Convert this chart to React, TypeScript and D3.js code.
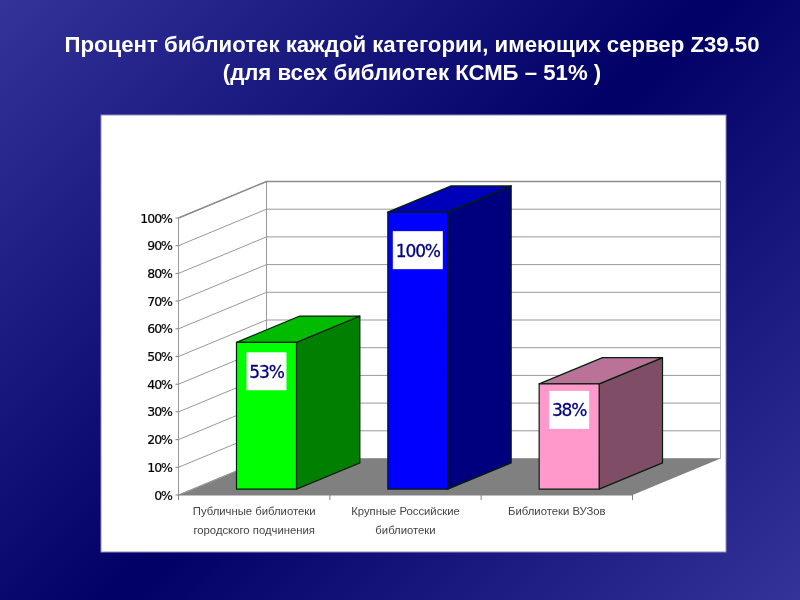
import React from 'react';
import * as d3 from 'd3';

const categories = ['lib-public', 'lib-large', 'lib-univ'];
const categoryLines = [
    ['Публичные библиотеки', 'городского подчинения'],
    ['Крупные Российские', 'библиотеки'],
    ['Библиотеки ВУЗов'],
];
const values = [53, 100, 38];
const ticks = [0, 10, 20, 30, 40, 50, 60, 70, 80, 90, 100];
const frontColors = ['#00ff00', '#0000ff', '#ff99cc'];
const topColors = ['#00bb00', '#0000bb', '#bb7299'];
const sideColors = ['#007f00', '#00007f', '#7f4d66'];
const titleLines = [
    'Процент библиотек каждой категории, имеющих сервер Z39.50',
    '(для всех библиотек КСМБ – 51% )',
];

const floorLeft = 178.5, floorRight = 632.5;
const yZero = 495, yFull = 218;
const depthX = 88, depthY = -36.5;
const barWidth = 60;
const barShiftX = 0.14, barShiftY = 0.16, barDepth = 0.72;

const App = () => {
    const xScale = d3.scaleBand<string>().domain(categories).range([floorLeft, floorRight]);
    const yScale = d3.scaleLinear().domain([0, 100]).range([yZero, yFull]);
    // the value label sits lower inside taller bars
    const labelOffset = d3.scaleLinear().domain([38, 100]).range([26, 38]);
    const pct = (d: number) => `${d}%`;
    const pts = (arr: number[][]) => arr.map(p => p.join(',')).join(' ');
    const tickXs = [...categories.map(c => xScale(c) as number), floorRight];

    return (
        <svg width={800} height={600} style={{ position: 'fixed', left: 0, top: 0 }}>
            <defs>
                <linearGradient id="bg" gradientUnits="userSpaceOnUse" x1={0} y1={0} x2={700} y2={700}>
                    <stop offset="0%" stopColor="#333399" />
                    <stop offset="51%" stopColor="#000066" />
                    <stop offset="100%" stopColor="#333399" />
                </linearGradient>
                <filter id="soft" x="-2%" y="-2%" width="104%" height="104%">
                    <feGaussianBlur stdDeviation={0.45} />
                </filter>
            </defs>
            <rect width={800} height={600} fill="url(#bg)" />
            <g fontFamily="Liberation Sans" fontWeight="bold" fontSize={22.2} fill="#fff" textAnchor="middle" filter="url(#soft)">
                {titleLines.map((t, i) => <text key={i} x={412} y={52 + i * 27.5}>{t}</text>)}
            </g>
            <rect x={101} y={115} width={625} height={437} fill="#fff" stroke="#8d8dbb" strokeWidth={1} />

            <g filter="url(#soft)">
                {/* floor */}
                <polygon fill="#808080" points={pts([
                    [floorLeft, yZero], [floorRight, yZero],
                    [floorRight + depthX, yZero + depthY], [floorLeft + depthX, yZero + depthY],
                ])} />

                {/* walls */}
                <polygon fill="#fff" stroke="#999" points={pts([
                    [floorLeft, yZero], [floorLeft, yFull],
                    [floorLeft + depthX, yFull + depthY], [floorLeft + depthX, yZero + depthY],
                ])} />
                <polyline fill="none" stroke="#b3b3b3" strokeWidth={1} points={pts([
                    [floorLeft + depthX, yFull + depthY], [floorRight + depthX, yFull + depthY],
                    [floorRight + depthX, yZero + depthY],
                ])} />
                {ticks.map(t => (
                    <g key={t}>
                        <polyline fill="none" stroke={t === 100 ? '#8c8c8c' : '#999'} strokeWidth={t === 100 ? 1.5 : 1} points={pts([
                            [floorLeft, yScale(t)], [floorLeft + depthX, yScale(t) + depthY],
                            [floorRight + depthX, yScale(t) + depthY],
                        ])} />
                        <line x1={floorLeft - 3} x2={floorLeft} y1={yScale(t)} y2={yScale(t)} stroke="#808080" />
                        <text x={172} y={yScale(t) + 4.5} textAnchor="end" fontFamily="DejaVu Sans" fontSize={12.5}
                            letterSpacing={-1} fill="#000" stroke="#000" strokeWidth={0.2}>{pct(t)}</text>
                    </g>
                ))}

                {/* front floor edge */}
                <line x1={floorLeft} x2={floorRight} y1={yZero} y2={yZero} stroke="#808080" />
                {tickXs.map((x, i) => <line key={i} x1={x} x2={x} y1={yZero} y2={yZero + 5} stroke="#808080" />)}

                {/* bars */}
                {categories.map((c, i) => {
                    const left = (xScale(c) as number) + (xScale.bandwidth() - barWidth) / 2 + depthX * barShiftX;
                    const right = left + barWidth;
                    const shiftY = depthY * barShiftY;
                    const base = yZero + shiftY;
                    const top = yScale(values[i]) + shiftY;
                    const dx = depthX * barDepth;
                    const dy = depthY * barDepth;
                    const boxW = i === 1 ? 50 : 40;
                    const labelY = top + labelOffset(values[i]);
                    return (
                        <g key={c} stroke="#06200a" strokeWidth={1.2} strokeLinejoin="round">
                            <polygon fill={sideColors[i]} points={pts([[right, base], [right, top], [right + dx, top + dy], [right + dx, base + dy]])} />
                            <polygon fill={topColors[i]} points={pts([[left, top], [right, top], [right + dx, top + dy], [left + dx, top + dy]])} />
                            <rect x={left} y={top} width={barWidth} height={base - top} fill={frontColors[i]} />
                            <rect x={left + 30 - boxW / 2} y={labelY - 19} width={boxW} height={38} fill="#fff" stroke="none" />
                            <text x={left + 30} y={labelY + 6.5} textAnchor="middle" fontFamily="DejaVu Sans"
                                fontSize={17} letterSpacing={-1.1} fill="#000080" stroke="#000080" strokeWidth={0.3}>{pct(values[i])}</text>
                        </g>
                    );
                })}

                {/* category labels */}
                {categories.map((c, i) => (
                    <g key={c} fontFamily="Liberation Sans" fontSize={11.3} fill="#444" textAnchor="middle">
                        {categoryLines[i].map((l, j) => (
                            <text key={j} x={(xScale(c) as number) + xScale.bandwidth() / 2} y={515 + j * 19}>{l}</text>
                        ))}
                    </g>
                ))}
            </g>
        </svg>
    );
};

export default App;
